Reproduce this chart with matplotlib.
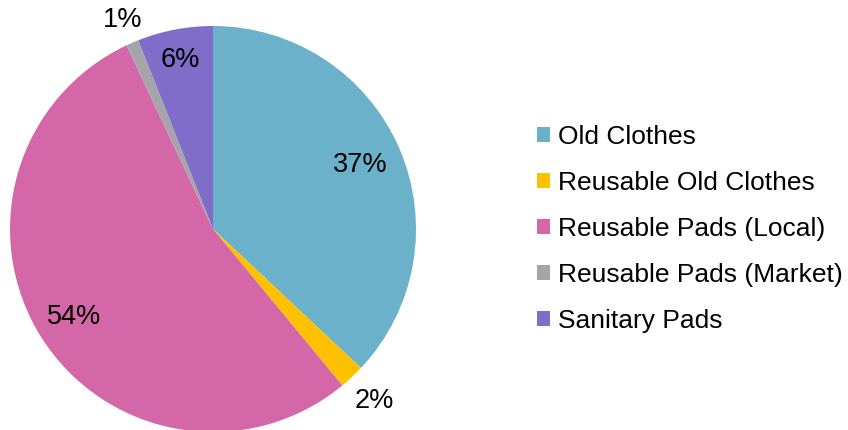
import numpy as np
import matplotlib.pyplot as plt

plt.rcParams['font.family'] = ['Liberation Sans', 'DejaVu Sans']

labels = ["Old Clothes", "Reusable Old Clothes", "Reusable Pads (Local)",
          "Reusable Pads (Market)", "Sanitary Pads"]
shares = [37, 2, 54, 1, 6]
colors = ["#6BB1C9", "#FFC000", "#D467A8", "#A5A5A9", "#7F6DC9"]
label_dist = [0.79, 1.16, 0.81, 1.12, 0.85]

fig = plt.figure(figsize=(8.48, 4.30), dpi=100)
cx, cy, r = 213, 229, 203
ax = fig.add_axes([(cx - r) / 848, (430 - cy - r) / 430, 2 * r / 848, 2 * r / 430])

wedges, _ = ax.pie(shares, colors=colors, startangle=90, counterclock=False,
                   radius=1.0, wedgeprops=dict(linewidth=0))
ax.set_xlim(-1, 1)
ax.set_ylim(-1, 1)
ax.set_aspect('equal')

for w, s, d in zip(wedges, shares, label_dist):
    ang = np.deg2rad((w.theta1 + w.theta2) / 2)
    ax.text(d * np.cos(ang), d * np.sin(ang), f"{s}%", ha='center', va='center',
            fontsize=19.5, color='black')

fig.legend(wedges, labels, loc='center left', bbox_to_anchor=(537 / 848, 1 - 229 / 430),
           frameon=False, fontsize=19, handlelength=0.5, handleheight=0.5,
           handletextpad=0.3, labelspacing=0.83, borderpad=0, borderaxespad=0)

fig.savefig("out.png", dpi=100)
